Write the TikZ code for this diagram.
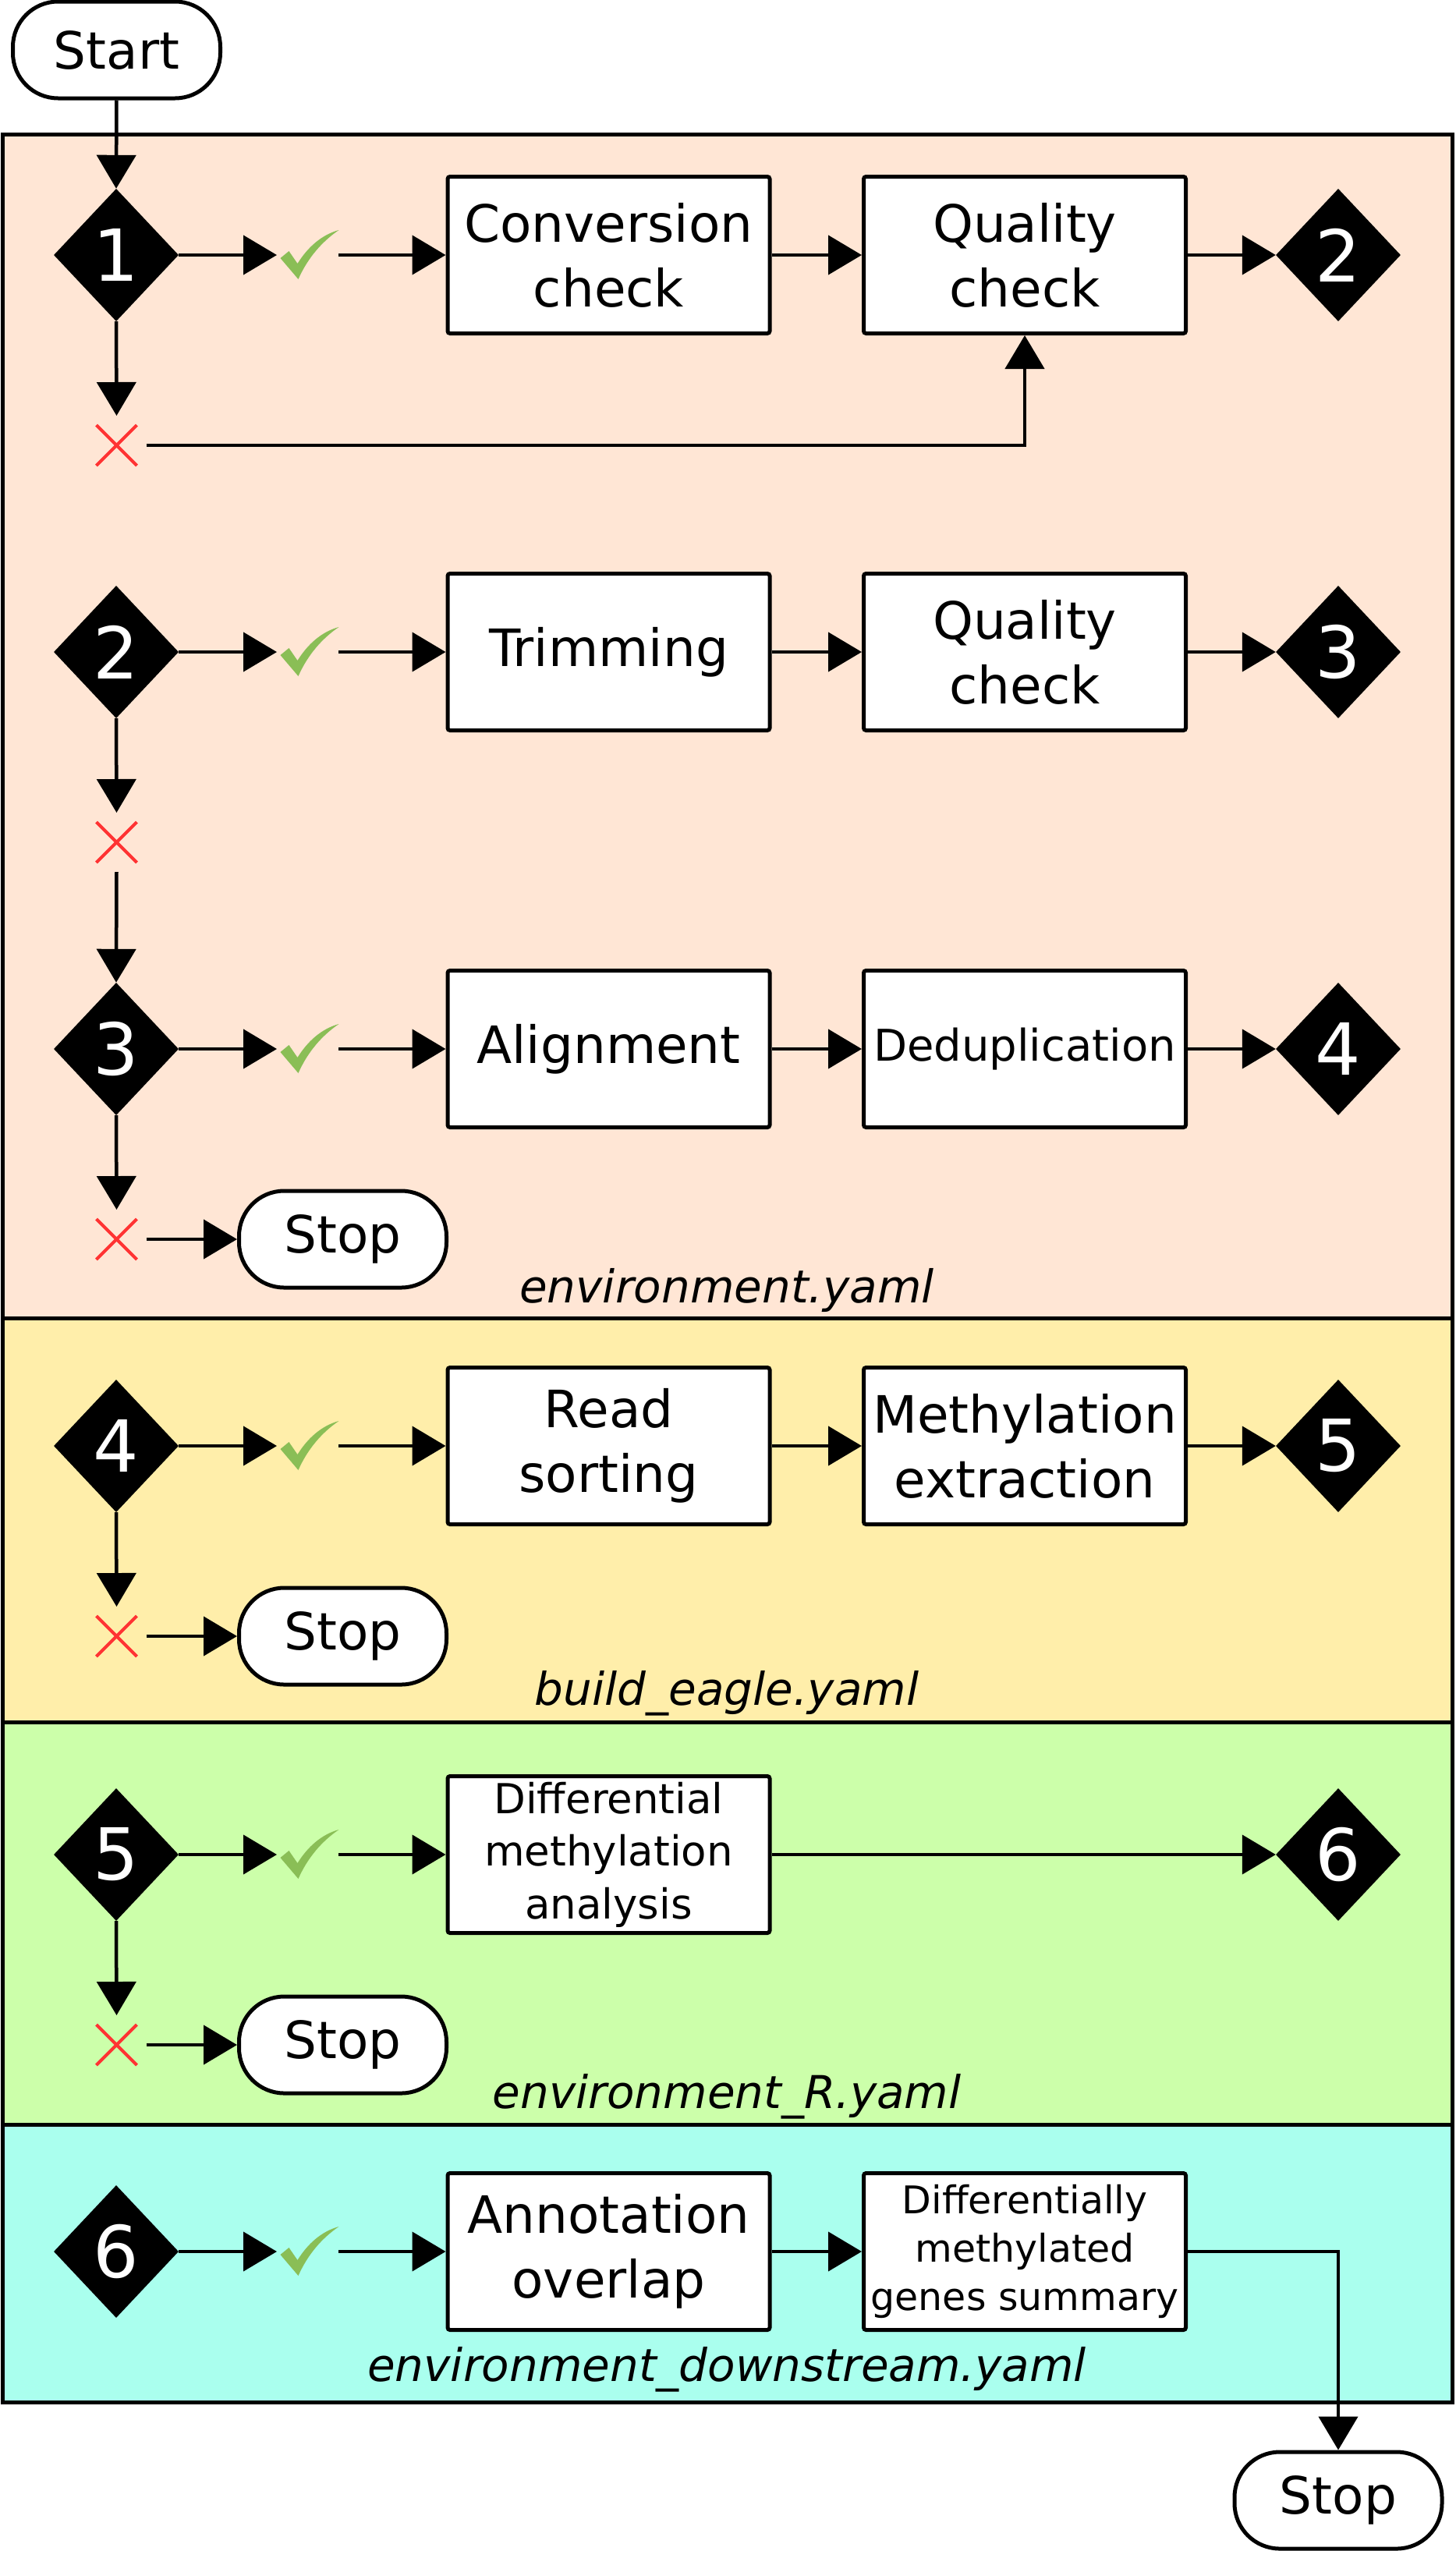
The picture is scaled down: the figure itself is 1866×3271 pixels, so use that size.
\documentclass[tikz,border=0pt]{standalone}
\usepackage{fontspec}
\setmainfont{DejaVu Sans}[ItalicFont={DejaVu Sans Oblique}]
\usetikzlibrary{arrows.meta,shapes.geometric}
\definecolor{peach}{HTML}{FFE6D5}
\definecolor{paleyellow}{HTML}{FFEEAA}
\definecolor{palegreen}{HTML}{CCFFAA}
\definecolor{palecyan}{HTML}{AAFFEE}
\definecolor{checkgreen}{RGB}{138,190,86}
\definecolor{xred}{RGB}{255,51,51}
\newcommand\drawok[1]{\fill[checkgreen,shift={(#1.center)}] (-35,4) -- (-24,-5) -- (-13,11) .. controls (0,-10) and (18,-26) .. (40,-32) .. controls (18,-17) and (0,4) .. (-12,31) -- cycle;}
\newcommand\drawno[1]{\draw[xstroke] ([shift={(-26,-26)}]#1.center) -- ([shift={(26,26)}]#1.center) ([shift={(-26,26)}]#1.center) -- ([shift={(26,-26)}]#1.center);}
\begin{document}
\begin{tikzpicture}[x=1pt,y=-1pt,
  panel/.style={draw=black,line width=5pt},
  stepbox/.style={draw, line width=5pt, fill=white, rounded corners=3pt, minimum width=413pt, minimum height=201pt, inner sep=0pt, align=center, font=\fontsize{66}{83}\selectfont},
  decision/.style={diamond, fill=black, text=white, minimum width=160pt, minimum height=170pt, inner sep=0pt, font=\fontsize{92}{92}\selectfont},
  terminal/.style={draw, line width=5pt, fill=white, rounded corners=58pt, minimum width=266pt, minimum height=124pt, inner sep=0pt, font=\fontsize{66}{80}\selectfont},
  okmark/.style={minimum width=79pt, minimum height=70pt, inner sep=0pt, outer sep=0pt},
  nomark/.style={minimum size=76pt, inner sep=0pt, outer sep=0pt},
  xstroke/.style={draw=xred, line width=4pt},
  conn/.style={line width=4.5pt, -{Triangle[length=43pt,width=50pt]}},
  envlabel/.style={anchor=base, font=\fontsize{58}{70}\selectfont\itshape}
]
\useasboundingbox (0,0) rectangle (1866,3271);
% panels
\path[panel, fill=peach] (3,172) rectangle (1862,1690);
\path[panel, fill=paleyellow] (3,1690) rectangle (1862,2208);
\path[panel, fill=palegreen] (3,2208) rectangle (1862,2724);
\path[panel, fill=palecyan] (3,2724) rectangle (1862,3080);

\node[envlabel] (l1) at (932,1670) {environment.yaml};
\node[envlabel] (l2) at (932,2186) {build\_eagle.yaml};
\node[envlabel] (l3) at (932,2703) {environment\_R.yaml};
\node[envlabel] (l4) at (932,3053) {environment\_downstream.yaml};

% start
\node[terminal] (start) at (149.5,64) {Start};

% row 1
\node[decision] (d1) at (149,327) {1};
\node[okmark] (c1) at (394.5,327) {};
\node[stepbox] (b11) at (780.5,327) {Conversion\\check};
\node[stepbox] (b12) at (1314,327) {Quality\\check};
\node[decision] (e1) at (1716,327) {2};
\node[nomark] (x1) at (149.5,571) {};

% row 2
\node[decision] (d2) at (149,836) {2};
\node[okmark] (c2) at (394.5,836) {};
\node[stepbox] (b21) at (780.5,836) {Trimming};
\node[stepbox] (b22) at (1314,836) {Quality\\check};
\node[decision] (e2) at (1716,836) {3};
\node[nomark] (x2) at (149.5,1080) {};

% row 3
\node[decision] (d3) at (149,1345) {3};
\node[okmark] (c3) at (394.5,1345) {};
\node[stepbox] (b31) at (780.5,1345) {Alignment};
\node[stepbox, font=\fontsize{56}{70}\selectfont] (b32) at (1314,1345) {Deduplication};
\node[decision] (e3) at (1716,1345) {4};
\node[nomark] (x3) at (149.5,1589) {};
\node[terminal] (s3) at (439.5,1589) {Stop};

% row 4
\node[decision] (d4) at (149,1854) {4};
\node[okmark] (c4) at (394.5,1854) {};
\node[stepbox] (b41) at (780.5,1854) {Read\\sorting};
\node[stepbox] (b42) at (1314,1854) {Methylation\\extraction};
\node[decision] (e4) at (1716,1854) {5};
\node[nomark] (x4) at (149.5,2098) {};
\node[terminal] (s4) at (439.5,2098) {Stop};

% row 5
\node[decision] (d5) at (149,2378) {5};
\node[okmark] (c5) at (394.5,2378) {};
\node[stepbox, font=\fontsize{53}{67.5}\selectfont] (b51) at (780.5,2378) {Differential\\methylation\\analysis};
\node[decision] (e5) at (1716,2378) {6};
\node[nomark] (x5) at (149.5,2622) {};
\node[terminal] (s5) at (439.5,2622) {Stop};

% row 6
\node[decision] (d6) at (149,2887) {6};
\node[okmark] (c6) at (394.5,2887) {};
\node[stepbox] (b61) at (780.5,2887) {Annotation\\overlap};
\node[stepbox, font=\fontsize{49}{62}\selectfont] (b62) at (1314,2887) {Differentially\\methylated\\genes summary};
\node[terminal] (send) at (1716,3206) {Stop};

% marks
\drawok{c1}\drawok{c2}\drawok{c3}\drawok{c4}\drawok{c5}\drawok{c6}
\drawno{x1}\drawno{x2}\drawno{x3}\drawno{x4}\drawno{x5}

% connectors
\draw[conn] (start.south) -- (d1.north);
\foreach \r in {1,2,3,4,5,6}{
  \draw[conn] (d\r.east) -- (c\r.west);
  \draw[conn] (c\r.east) -- (b\r1.west);
}
\foreach \r in {1,2,3,4}{
  \draw[conn] (b\r1.east) -- (b\r2.west);
  \draw[conn] (b\r2.east) -- (e\r.west);
}
\draw[conn] (b51.east) -- (e5.west);
\draw[conn] (b61.east) -- (b62.west);
\foreach \r in {1,2,3,4,5}{
  \draw[conn] (d\r.south) -- (x\r.north);
}
\draw[conn] (x1.east) -| (b12.south);
\draw[conn] (x2.south) -- (d3.north);
\draw[conn] (x3.east) -- (s3.west);
\draw[conn] (x4.east) -- (s4.west);
\draw[conn] (x5.east) -- (s5.west);
\draw[conn] (b62.east) -| (send.north);
\end{tikzpicture}
\end{document}
